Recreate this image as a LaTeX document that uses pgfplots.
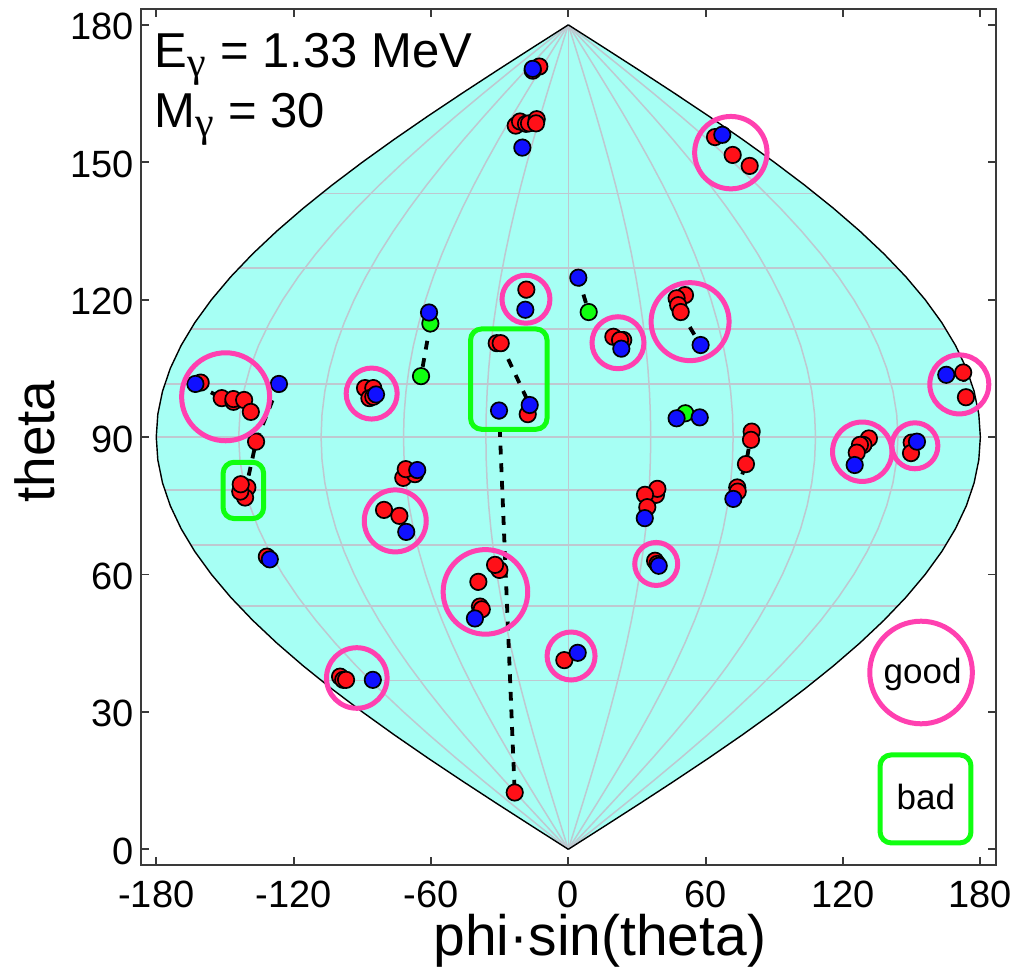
\documentclass[border=0pt]{standalone}
\usepackage{pgfplots}
\usepackage{pgfplotstable}
\usepackage{fontspec}
\setmainfont{Liberation Sans}
\newfontfamily\gam{Liberation Serif}
\pgfplotsset{compat=1.18}
\definecolor{sea}{HTML}{A6FFF4}
\definecolor{gridg}{HTML}{BEC8D0}
\definecolor{pinkr}{HTML}{FF40B0}
\definecolor{grn}{HTML}{10FF10}
\definecolor{redp}{HTML}{FF1018}
\definecolor{bluep}{HTML}{1010FF}
\definecolor{frame}{HTML}{3A3A3A}
\pgfplotstableread{
t a180 a144 a108 a72 a36
0 0 0 0 0 0
5 15.69 12.55 9.41 6.28 3.14
10 31.26 25.01 18.75 12.50 6.25
15 46.59 37.27 27.95 18.64 9.32
20 61.56 49.25 36.94 24.63 12.31
25 76.07 60.86 45.64 30.43 15.21
30 90 72 54 36 18
35 103.24 82.60 61.95 41.30 20.65
40 115.70 92.56 69.42 46.28 23.14
45 127.28 101.82 76.37 50.91 25.46
50 137.89 110.31 82.73 55.15 27.58
55 147.45 117.96 88.47 58.98 29.49
60 155.88 124.71 93.53 62.35 31.18
65 163.14 130.51 97.88 65.25 32.63
70 169.14 135.32 101.49 67.66 33.83
75 173.87 139.09 104.32 69.55 34.77
80 177.27 141.81 106.36 70.91 35.45
85 179.32 143.45 107.59 71.73 35.86
90 180 144 108 72 36
95 179.32 143.45 107.59 71.73 35.86
100 177.27 141.81 106.36 70.91 35.45
105 173.87 139.09 104.32 69.55 34.77
110 169.14 135.32 101.49 67.66 33.83
115 163.14 130.51 97.88 65.25 32.63
120 155.88 124.71 93.53 62.35 31.18
125 147.45 117.96 88.47 58.98 29.49
130 137.89 110.31 82.73 55.15 27.58
135 127.28 101.82 76.37 50.91 25.46
140 115.70 92.56 69.42 46.28 23.14
145 103.24 82.60 61.95 41.30 20.65
150 90 72 54 36 18
155 76.07 60.86 45.64 30.43 15.21
160 61.56 49.25 36.94 24.63 12.31
165 46.59 37.27 27.95 18.64 9.32
170 31.26 25.01 18.75 12.50 6.25
175 15.69 12.55 9.41 6.28 3.14
180 0 0 0 0 0
}\sphere
\pgfplotstableread{
x y
-12.67 170.9
-15.55 170.0
-22.97 158.0
-21.10 158.9
-18.48 158.4
-17.17 158.5
-13.80 159.4
-14.11 158.5
64.08 155.5
71.81 151.6
79.23 149.2
-18.34 122.2
-31.27 110.5
-29.53 110.5
-17.73 95.0
-23.41 12.4
-160.6 101.9
-151.4 98.5
-146.3 97.7
-146.3 98.3
-141.6 98.1
-138.7 95.5
-136.4 89.0
-140.2 79.0
-141.2 76.8
-143.3 78.1
-143.1 79.7
-131.7 63.9
-88.8 100.7
-85.2 100.7
-86.9 98.5
-85.2 98.8
-72.1 81.1
-67.0 81.9
-71.0 83.0
-80.5 74.1
-73.8 72.8
-30.1 61.0
-32.0 62.1
-39.3 58.4
-38.6 53.0
-37.8 52.4
-99.7 37.7
-98.3 37.0
-97.1 37.0
-1.75 41.3
50.97 121.0
47.3 120.3
48.0 118.8
49.1 117.3
24.0 111.2
19.66 111.9
22.6 111.2
172.5 104.1
173.7 98.7
80.1 91.2
79.8 89.4
77.6 84.1
73.8 79.0
74.0 78.1
38.3 77.4
38.9 78.7
33.5 77.4
34.5 74.7
37.9 63.0
38.9 62.3
131.3 89.7
128.9 88.3
127.4 88.3
126.0 86.6
150.0 88.8
149.7 86.5
}\reds
\pgfplotstableread{
x y
8.91 117.3
-60.27 114.8
-64.34 103.3
51.1 95.2
}\greens
\pgfplotstableread{
x y
-15.55 170.4
-20.09 153.2
67.26 156.0
-18.78 117.8
4.37 124.8
-60.84 117.2
-16.86 97.0
-30.27 95.8
-162.9 101.6
-126.4 101.6
-130.4 63.3
-84.0 99.3
-66.0 82.8
-70.8 69.3
-40.8 50.4
-85.4 37.0
4.1 42.9
57.8 110.1
23.15 109.3
165.1 103.6
47.3 94.1
57.4 94.3
72.1 76.5
33.4 72.3
39.5 61.9
125.1 83.9
152.3 89.0
}\blues
\newcommand{\gring}[3]{\addplot[only marks,mark=o,mark size=#3pt,draw=pinkr,mark options={line width=2.5pt,draw=pinkr}] coordinates {(#1,#2)};}
\newcommand{\gbox}[5]{\addplot[mark=none,draw=grn,line width=2.5pt,rounded corners=5.5pt] coordinates {(#3,#4) (#2,#4) (#2,#5) (#1,#5) (#1,#4) (#3,#4)};}
\begin{document}
\begin{tikzpicture}
\useasboundingbox (-70.35pt,-53.65pt) rectangle (441.65pt,432.35pt);
\begin{axis}[
  scale only axis, width=427.5pt, height=427.7pt,
  xmin=-186.8, xmax=186.7, ymin=-3.36, ymax=183.4,
  clip=false,
  xtick={-180,-120,-60,0,60,120,180},
  xticklabels={-180,-120,-60,0,60,120,180},
  ytick={0,30,60,90,120,150,180},
  yticklabels={0,30,60,90,120,150,180},
  tick align=inside, tick pos=both,
  major tick length=4pt,
  every tick/.style={line width=0.9pt,color=frame},
  axis line style={line width=1.1pt,color=frame},
  tick label style={font=\fontsize{19pt}{21pt}\selectfont},
  xticklabel style={yshift=-4.5pt},
  yticklabel style={xshift=0pt,yshift=-1pt},
  xlabel={phi·sin(theta)},
  ylabel={theta},
  every axis x label/.style={at={(axis description cs:0.537,-0.089)},anchor=center,font=\fontsize{28.5pt}{30pt}\selectfont},
  every axis y label/.style={at={(axis description cs:-0.1236,0.4945)},anchor=center,rotate=90,font=\fontsize{27.5pt}{30pt}\selectfont},
  dashseg/.style={mark=none,draw=black,line width=1.9pt,dash pattern=on 4.4pt off 4.4pt},
  gl/.style={mark=none,draw=gridg,line width=0.75pt},
]
% sphere area
\addplot[draw=none,fill=sea,mark=none] table[x=a180,y=t] {\sphere};
\addplot[draw=none,fill=sea,mark=none] table[x expr=-\thisrow{a180},y=t] {\sphere};
% parallels
\addplot[gl] coordinates {(-108,36.87) (108,36.87)};
\addplot[gl] coordinates {(-144,53.13) (144,53.13)};
\addplot[gl] coordinates {(-165,66.42) (165,66.42)};
\addplot[gl] coordinates {(-176.4,78.46) (176.4,78.46)};
\addplot[gl] coordinates {(-180,90) (180,90)};
\addplot[gl] coordinates {(-176.4,101.54) (176.4,101.54)};
\addplot[gl] coordinates {(-165,113.58) (165,113.58)};
\addplot[gl] coordinates {(-144,126.87) (144,126.87)};
\addplot[gl] coordinates {(-108,143.13) (108,143.13)};
% meridians
\addplot[gl] coordinates {(0,0) (0,180)};
\addplot[gl] table[x=a144,y=t] {\sphere};
\addplot[gl] table[x=a108,y=t] {\sphere};
\addplot[gl] table[x=a72,y=t] {\sphere};
\addplot[gl] table[x=a36,y=t] {\sphere};
\addplot[gl] table[x expr=-\thisrow{a144},y=t] {\sphere};
\addplot[gl] table[x expr=-\thisrow{a108},y=t] {\sphere};
\addplot[gl] table[x expr=-\thisrow{a72},y=t] {\sphere};
\addplot[gl] table[x expr=-\thisrow{a36},y=t] {\sphere};
% boundary
\addplot[mark=none,draw=black,line width=0.7pt] table[x=a180,y=t] {\sphere};
\addplot[mark=none,draw=black,line width=0.7pt] table[x expr=-\thisrow{a180},y=t] {\sphere};
% tracks
\addplot[dashseg] coordinates {(-20.09,153.2) (-18,158)};
\addplot[dashseg] coordinates {(67.26,156) (71.81,151.6) (79.23,149.2)};
\addplot[dashseg] coordinates {(-18.34,122.2) (-18.78,117.8)};
\addplot[dashseg] coordinates {(4.37,124.8) (8.91,117.3)};
\addplot[dashseg] coordinates {(-60.27,114.8) (-64.34,103.3)};
\addplot[dashseg] coordinates {(-29.53,110.5) (-16.86,97)};
\addplot[dashseg] coordinates {(-30.27,95.8) (-23.41,12.4)};
\addplot[dashseg] coordinates {(-162.9,101.6) (-151.4,98.5)};
\addplot[dashseg] coordinates {(-126.4,101.6) (-136.4,89) (-141.2,78)};
\addplot[dashseg] coordinates {(-39.3,58.4) (-40.8,50.4)};
\addplot[dashseg] coordinates {(-80.5,74.1) (-73.8,72.8) (-70.8,69.3)};
\addplot[dashseg] coordinates {(-97.1,37) (-85.4,37)};
\addplot[dashseg] coordinates {(49.1,117.3) (57.8,110.1)};
\addplot[dashseg] coordinates {(165.1,103.6) (172.5,104.1) (173.7,98.7)};
\addplot[dashseg] coordinates {(80.1,91.2) (77.6,84.1) (72.1,76.5)};
\addplot[dashseg] coordinates {(-1.75,41.3) (4.1,42.9)};
% points
\addplot[only marks,mark=*,mark size=4.1pt,mark options={fill=redp,draw=black,line width=0.85pt}] table[x=x,y=y] {\reds};
\addplot[only marks,mark=*,mark size=4.1pt,mark options={fill=grn,draw=black,line width=0.85pt}] table[x=x,y=y] {\greens};
\addplot[only marks,mark=*,mark size=4.1pt,mark options={fill=bluep,draw=black,line width=0.85pt}] table[x=x,y=y] {\blues};
% good / bad marks
\gring{-149.7}{98.8}{22}
\gring{-85.9}{99.5}{12.75}
\gring{-18.5}{120.1}{12}
\gring{71.0}{152.1}{18.1}
\gring{53.2}{115.2}{19.5}
\gring{21.7}{110.6}{13}
\gring{170.8}{101.5}{14.75}
\gring{-75.6}{71.7}{15.5}
\gring{-36.2}{56.2}{21.15}
\gring{-92.4}{37.4}{15.15}
\gring{1.2}{42.2}{12}
\gring{38.4}{62.3}{10.75}
\gring{128.4}{86.8}{14.85}
\gring{151.4}{88.1}{11.5}
\gring{154.1}{38.6}{25.65}
\gbox{-42.7}{-9.3}{-26}{113.6}{91.7}
\gbox{-150.8}{-133.1}{-142}{84.5}{72.2}
\gbox{136.2}{175.9}{156}{20.6}{1.4}
\node[anchor=base west,inner sep=0pt,font=\fontsize{24.5pt}{26pt}\selectfont] at (axis description cs:0.0155,0.9314) {E\raisebox{-4.5pt}{\fontsize{21pt}{22pt}\selectfont\gam γ}\hspace{0.5pt} = 1.33 MeV};
\node[anchor=base west,inner sep=0pt,font=\fontsize{24.5pt}{26pt}\selectfont] at (axis description cs:0.0155,0.8616) {M\raisebox{-4.5pt}{\fontsize{21pt}{22pt}\selectfont\gam γ}\hspace{0.5pt} = 30};
\node[font=\fontsize{17.5pt}{19pt}\selectfont] at (axis cs:154.8,38.2) {good};
\node[font=\fontsize{17.5pt}{19pt}\selectfont] at (axis cs:156.2,11.5) {bad};
\end{axis}
\end{tikzpicture}
\end{document}
